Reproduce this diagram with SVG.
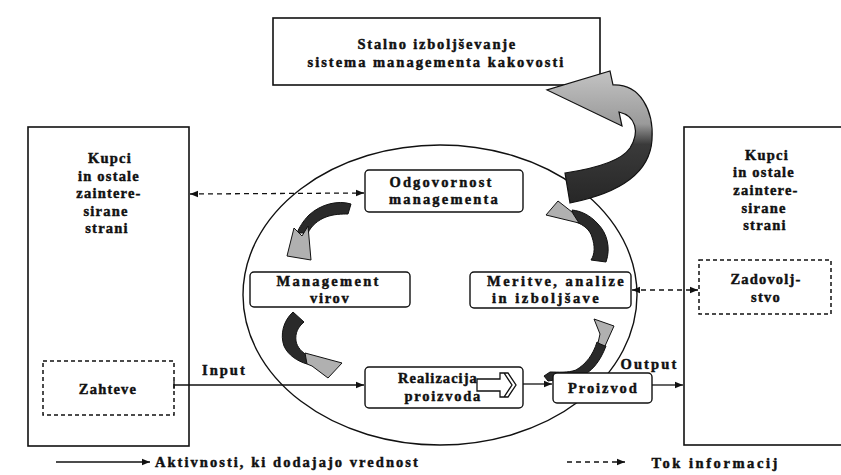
<svg xmlns="http://www.w3.org/2000/svg" width="841" height="475" viewBox="0 0 841 475">
<defs>
<style>
text{font-family:"Liberation Serif","Times New Roman",serif;font-weight:bold;font-size:14.5px;fill:#111;stroke:#111;stroke-width:0.45;text-anchor:middle;letter-spacing:1.2px}
.box{fill:#fff;stroke:#111;stroke-width:1.6}
.rbox{fill:#fff;stroke:#111;stroke-width:1.4}
.dbox{fill:none;stroke:#111;stroke-width:1.5;stroke-dasharray:4 3}
.solid{fill:none;stroke:#111;stroke-width:1.3}
.dash{fill:none;stroke:#111;stroke-width:1.3;stroke-dasharray:5 4}
.shaft{fill:#2a2a2a;stroke:#111;stroke-width:1}
.head{fill:#b0b0b0;stroke:#111;stroke-width:1}
</style>
<marker id="ah" viewBox="0 0 10 10" refX="10" refY="5" markerWidth="8" markerHeight="8" markerUnits="userSpaceOnUse" orient="auto-start-reverse">
<path d="M0,1 L10,5 L0,9 Z" fill="#111"/>
</marker>
<linearGradient id="bigg" gradientUnits="userSpaceOnUse" x1="0" y1="205" x2="0" y2="70">
<stop offset="0" stop-color="#262626"/>
<stop offset="0.45" stop-color="#3a3a3a"/>
<stop offset="0.6" stop-color="#9a9a9a"/>
<stop offset="1" stop-color="#c4c4c4"/>
</linearGradient>
</defs>

<g id="ellipse-frame">
<ellipse cx="440" cy="295" rx="197" ry="150" fill="none" stroke="#111" stroke-width="1.4"/>
</g>

<g id="improvement">
<rect class="box" x="273" y="18" width="327" height="67" stroke-width="2"/>
<text x="437" y="49" textLength="159" lengthAdjust="spacing">Stalno izboljševanje</text>
<text x="436" y="67" textLength="257" lengthAdjust="spacing">sistema managementa kakovosti</text>
</g>

<g id="customers-left">
<rect class="box" x="28" y="127" width="161" height="319"/>
<text x="110" y="163">Kupci</text>
<text x="109" y="181">in ostale</text>
<text x="109" y="198">zaintere-</text>
<text x="106" y="216">sirane</text>
<text x="107" y="233">strani</text>
</g>
<g id="requirements">
<rect class="dbox" x="43" y="361" width="131" height="54"/>
<text x="108" y="394">Zahteve</text>
</g>

<g id="customers-right">
<rect class="box" x="684" y="127" width="170" height="318"/>
<text x="767" y="160">Kupci</text>
<text x="764" y="177">in ostale</text>
<text x="766" y="195">zaintere-</text>
<text x="764" y="213">sirane</text>
<text x="765" y="230">strani</text>
</g>
<g id="satisfaction">
<rect class="dbox" x="699" y="260" width="132" height="54"/>
<text x="766" y="284">Zadovolj-</text>
<text x="766" y="302">stvo</text>
</g>

<g id="connectors">
<line class="dash" x1="190" y1="194" x2="364" y2="193" marker-start="url(#ah)" marker-end="url(#ah)"/>
<line class="dash" x1="632" y1="290" x2="698" y2="290" marker-start="url(#ah)" marker-end="url(#ah)"/>
<line class="solid" x1="174" y1="385" x2="364" y2="385" marker-end="url(#ah)"/>
<line class="solid" x1="174" y1="381" x2="174" y2="389"/>
<line class="solid" x1="523" y1="384" x2="552" y2="384" marker-end="url(#ah)"/>
<line class="solid" x1="652" y1="385" x2="683" y2="385" marker-end="url(#ah)"/>
<!-- big curved arrow -->
<path d="M565,173 C598,168 622,160 630,148 C640,132 636,116 619,112 L622,126 L547,90 L610,71 L613,85 C640,84 654,110 652,140 C650,170 625,192 570,203 Z" fill="url(#bigg)" stroke="#111" stroke-width="1.2"/>
<!-- small arrow A: management -> resources -->
<path class="shaft" d="M351,204 C338,200 321,204 309,215 C303,221 299,228 297,233 L308,233 C311,226 318,220 326,217 C334,214 342,214 348,214 Z"/>
<path class="head" d="M294,228 L302,236 L308,226 L311,260 L287,256 Z"/>
<!-- small arrow B: resources -> realization -->
<path class="shaft" d="M293,312 C283,321 280,335 284,346 C288,355 297,361 307,364 L309,356 C302,353 297,347 296,341 C295,333 298,327 304,322 Z"/>
<path class="head" d="M305,353 L342,363 L328,378 L312,366 L307,364 Z"/>
<!-- small arrow C: measurement -> management -->
<path class="shaft" d="M606,262 C611,248 607,233 598,224 C590,215 581,211 572,210 L576,222 C584,225 590,230 592,237 C595,246 595,254 591,260 Z"/>
<path class="head" d="M558,201 L546,215 L579,223 L572,212 Z"/>
<!-- small arrow D: product -> measurement -->
<path class="shaft" d="M548,381 C560,379 570,378 579,377 C591,373 600,362 606,346 L597,342 C593,355 586,364 576,370 C568,373 558,372 550,372 L544,376 Z"/>
<path class="head" d="M594,319 L614,326 L605,346 L598,343 L600,334 Z"/>
</g>

<g id="management-responsibility">
<rect class="rbox" x="365" y="170" width="158" height="42" rx="4"/>
<text x="441" y="187" textLength="103" lengthAdjust="spacing">Odgovornost</text>
<text x="444" y="204" textLength="110" lengthAdjust="spacing">managementa</text>
</g>

<g id="resource-management">
<rect class="rbox" x="250" y="272" width="160" height="35" rx="4"/>
<text x="328" y="286" textLength="103" lengthAdjust="spacing">Management</text>
<text x="330" y="303" textLength="40" lengthAdjust="spacing">virov</text>
</g>

<g id="measurement">
<rect class="rbox" x="470" y="272" width="161" height="36" rx="4"/>
<text x="556" y="286" textLength="138" lengthAdjust="spacing">Meritve, analize</text>
<text x="546" y="303" textLength="108" lengthAdjust="spacing">in izboljšave</text>
</g>

<g id="realization">
<rect class="rbox" x="365" y="367" width="158" height="41" rx="4"/>
<text x="398" y="383" style="text-anchor:start" textLength="80" lengthAdjust="spacing">Realizacija</text>
<text x="443" y="401" textLength="77" lengthAdjust="spacing">proizvoda</text>
<path d="M477,379 L500,379 L500,373 L504,373 L512,385 L504,397 L500,397 L500,391 L477,391 Z M504,373 L508,373 L516,385 L508,397 L504,397" fill="#fff" stroke="#111" stroke-width="1.3"/>
</g>

<g id="product">
<rect class="rbox" x="553" y="373" width="99" height="30" rx="4"/>
<text x="603" y="393" textLength="70" lengthAdjust="spacing">Proizvod</text>
<text x="649" y="369" textLength="57" lengthAdjust="spacing">Output</text>
</g>

<g id="input-label">
<text x="224" y="375" textLength="44" lengthAdjust="spacing">Input</text>
</g>

<g id="legend">
<line class="solid" x1="56" y1="462" x2="150" y2="462" marker-end="url(#ah)"/>
<text x="287" y="467" textLength="264" lengthAdjust="spacing">Aktivnosti, ki dodajajo vrednost</text>
<line class="dash" x1="567" y1="462" x2="625" y2="462" marker-end="url(#ah)"/>
<text x="715" y="468" textLength="127" lengthAdjust="spacing">Tok informacij</text>
</g>
</svg>
